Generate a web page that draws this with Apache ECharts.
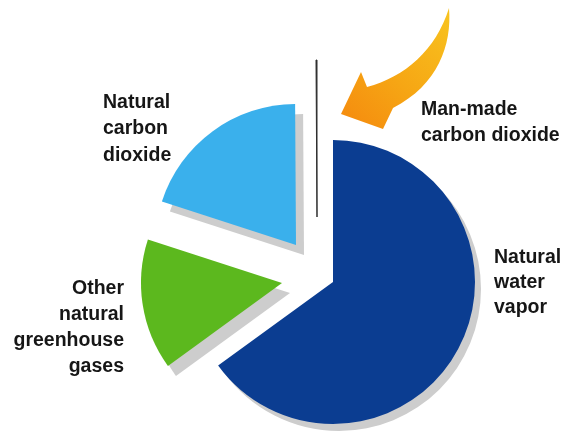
<!DOCTYPE html>
<html>
<head>
<meta charset="utf-8">
<style>
  html, body { margin: 0; padding: 0; background: #ffffff; }
  #chart { width: 573px; height: 432px; }
</style>
<script src="https://cdn.jsdelivr.net/npm/echarts@6/dist/echarts.min.js"></script>
</head>
<body>
<div id="chart"></div>
<script>
// Share of the greenhouse effect, by source (per cent)
const categories = [
  'Natural water vapor',
  'Other natural greenhouse gases',
  'Natural carbon dioxide',
  'Man-made carbon dioxide'
];
const shares = [65, 15, 19.9, 0.1];
const labelLines = [
  ['Natural', 'water', 'vapor'],
  ['Other', 'natural', 'greenhouse', 'gases'],
  ['Natural', 'carbon', 'dioxide'],
  ['Man-made', 'carbon dioxide']
];
const sliceColors = ['#0b3d91', '#5cb81e', '#3ab0ec', '#2e2e2e'];

// Where each slice's tip sits (pulled-out slices are moved away from the body)
const sliceCenters = [[333, 282], [282, 283], [296, 245], [317, 217]];
const sliceRadii = [142, 141, 141, 157];
const sliceShadows = [[6, 7], [8, 10], [8, 10], null];

const FONT = 'bold 19.5px "Liberation Sans", Arial, sans-serif';
const SHADOW = '#cdcdcd';

// Each ring holds all slices so the angles stay identical;
// only its own slice is painted.
function ringData(visibleIndex) {
  return categories.map((name, i) => {
    const item = { name, value: shares[i] };
    if (i === visibleIndex) {
      const style = { color: sliceColors[i], borderWidth: 0 };
      const sh = sliceShadows[i];
      if (sh) {
        Object.assign(style, {
          shadowColor: SHADOW, shadowBlur: 0,
          shadowOffsetX: sh[0], shadowOffsetY: sh[1]
        });
      } else {
        Object.assign(style, { borderColor: sliceColors[i], borderWidth: 1 });
      }
      item.itemStyle = style;
    } else {
      item.itemStyle = { color: 'rgba(0,0,0,0)', borderWidth: 0 };
    }
    return item;
  });
}

const pieSeries = categories.map((name, i) => ({
  type: 'pie',
  name: name,
  center: sliceCenters[i],
  radius: [0, sliceRadii[i]],
  startAngle: 90,
  clockwise: true,
  silent: true,
  animation: false,
  label: { show: false },
  labelLine: { show: false },
  emphasis: { disabled: true },
  avoidLabelOverlap: false,
  data: ringData(i)
}));

// Label blocks beside each slice
const labelPlacement = [
  { x: 494, y: 245, align: 'left', lh: 25 },
  { x: 124, y: 276, align: 'right', lh: 26 },
  { x: 103, y: 89, align: 'left', lh: 26.5 },
  { x: 421, y: 97, align: 'left', lh: 26 }
];

const labelGraphics = labelLines.map((lines, i) => {
  const p = labelPlacement[i];
  return {
    type: 'text',
    silent: true,
    style: {
      text: lines.join('\n'),
      x: p.x,
      y: p.y,
      font: FONT,
      fill: '#161616',
      textAlign: p.align,
      textVerticalAlign: 'top',
      lineHeight: p.lh
    }
  };
});

// Curved pointer toward the man-made slice
const arrowPath = 'M449,8 C452,45 438,85 393,108 L383,129 L341,114 L361,72 L367,87 C405,77 436,50 449,8 Z';
const arrowFill = {
  type: 'linear',
  x: 1, y: 0, x2: 0, y2: 1,
  colorStops: [
    { offset: 0, color: '#f8c41f' },
    { offset: 0.55, color: '#f6a614' },
    { offset: 1, color: '#f5890e' }
  ]
};

const chart = echarts.init(document.getElementById('chart'), null, { renderer: 'canvas' });

chart.setOption({
  backgroundColor: '#ffffff',
  series: pieSeries.concat([{
    type: 'custom',
    name: 'pointer',
    coordinateSystem: 'none',
    silent: true,
    animation: false,
    data: [0],
    renderItem: function () {
      return {
        type: 'path',
        shape: { pathData: arrowPath },
        style: { fill: arrowFill }
      };
    }
  }]),
  graphic: labelGraphics
});
</script>
</body>
</html>
